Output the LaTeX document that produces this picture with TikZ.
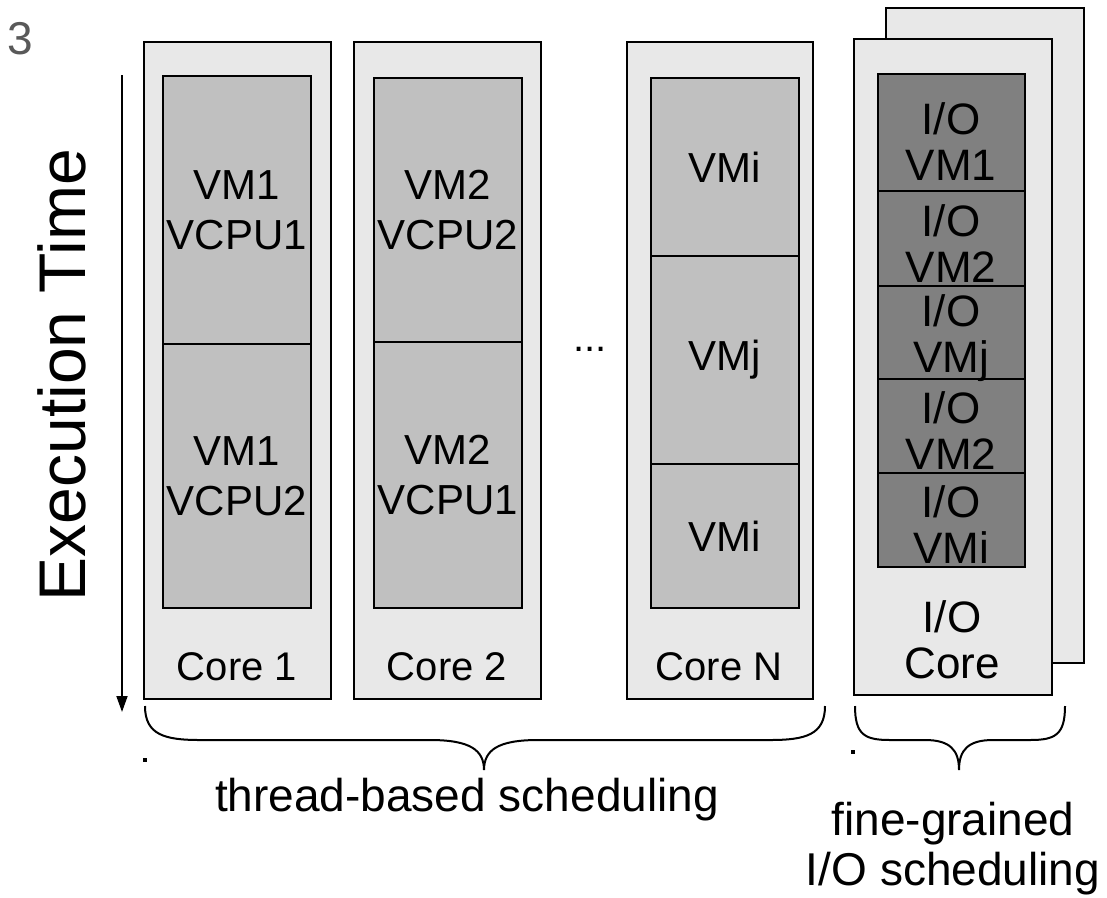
\documentclass[tikz,border=0pt]{standalone}
\usepackage{fontspec}
\setmainfont{Liberation Sans}
\usetikzlibrary{arrows.meta}
\definecolor{outerfill}{HTML}{E8E8E8}
\definecolor{cellfill}{HTML}{C0C0C0}
\definecolor{iofill}{HTML}{808080}
\begin{document}
\begin{tikzpicture}[x=1pt,y=-1pt,
  outerbox/.style={draw=black,line width=1.8pt,fill=outerfill,anchor=north west,inner sep=0pt},
  cell/.style={draw=black,line width=1.8pt,fill=cellfill,anchor=north west,inner sep=0pt,minimum width=148pt,align=center,font=\fontsize{42}{50}\selectfont},
  iocell/.style={draw=black,line width=1.8pt,fill=iofill,anchor=north west,inner sep=0pt,minimum width=147pt},
  iotext/.style={font=\fontsize{44}{44}\selectfont,anchor=base,inner sep=0pt},
  lbl/.style={font=\fontsize{40}{48}\selectfont,align=center,inner sep=0pt},
  iolbl/.style={font=\fontsize{44}{46}\selectfont,align=center,inner sep=0pt},
  biglbl/.style={font=\fontsize{46}{50}\selectfont,align=center,inner sep=0pt},
  brace/.style={draw=black,line width=2pt}
]
\useasboundingbox (0,0) rectangle (1107,897);

% stray digit
\node[text=gray!70!black,font=\fontsize{46}{46}\selectfont,inner sep=0pt] (three) at (20,39) {3};

% time axis
\coordinate (ttop) at (122,75);
\coordinate (tbot) at (122,712);
\draw[line width=1.8pt,-{Triangle[length=16pt,width=11pt]}] (ttop) -- (tbot);
\node[rotate=90,font=\fontsize{66}{66}\selectfont,inner sep=0pt] (exec) at (62,375) {Execution Time};

% Core 1
\node[outerbox,minimum width=187pt,minimum height=657pt] (core1) at (143,41) {};
\node[cell,minimum height=268pt] (c1a) at (162,75) {VM1\\VCPU1};
\node[cell,minimum height=264pt] (c1b) at (162,343) {VM1\\VCPU2};
\node[lbl] (c1l) at (237,667) {Core 1};

% Core 2
\node[outerbox,minimum width=187pt,minimum height=657pt] (core2) at (353,41) {};
\node[cell,minimum height=264pt] (c2a) at (373,77) {VM2\\VCPU2};
\node[cell,minimum height=266pt] (c2b) at (373,341) {VM2\\VCPU1};
\node[lbl] (c2l) at (447,667) {Core 2};

% dots
\node[lbl] (dots) at (590,349) {...};

% Core N
\node[outerbox,minimum width=186pt,minimum height=657pt] (coreN) at (626,41) {};
\node[cell,minimum height=178pt] (cNa) at (650,77) {VMi};
\node[cell,minimum height=208pt] (cNb) at (650,255) {VMj};
\node[cell,minimum height=144pt] (cNc) at (650,463) {VMi};
\node[lbl] (cNl) at (719,667) {Core N};

% I/O cores
\node[outerbox,minimum width=198pt,minimum height=655pt] (ioback) at (885,7) {};
\node[outerbox,minimum width=198pt,minimum height=656pt] (iofront) at (853,38) {};
\node[iocell,minimum height=117pt] (io1) at (877,73) {};
\node[iocell,minimum height=95pt] (io2) at (877,190) {};
\node[iocell,minimum height=93pt] (io3) at (877,285) {};
\node[iocell,minimum height=94pt] (io4) at (877,378) {};
\node[iocell,minimum height=94pt] (io5) at (877,472) {};
\node[iotext] (io1a) at (951,134) {I/O};
\node[iotext] (io1b) at (951,180) {VM1};
\node[iotext] (io2a) at (951,236) {I/O};
\node[iotext] (io2b) at (951,282) {VM2};
\node[iotext] (io3a) at (951,326) {I/O};
\node[iotext] (io3b) at (951,372) {VMj};
\node[iotext] (io4a) at (951,423) {I/O};
\node[iotext] (io4b) at (951,469) {VM2};
\node[iotext] (io5a) at (951,517) {I/O};
\node[iotext] (io5b) at (951,563) {VMi};
\node[iolbl] (iol) at (952,640) {I/O\\Core};

% braces
\draw[brace] (145,706) .. controls (145,735) and (165,740) .. (200,740) -- (430,740)
  .. controls (470,740) and (484,750) .. (484,770)
  .. controls (484,750) and (498,740) .. (538,740) -- (770,740)
  .. controls (805,740) and (825,735) .. (825,706);
\draw[brace] (855,706) .. controls (855,735) and (865,740) .. (890,740) -- (925,740)
  .. controls (950,740) and (959,750) .. (959,770)
  .. controls (959,750) and (968,740) .. (993,740) -- (1030,740)
  .. controls (1055,740) and (1065,735) .. (1065,706);
\fill (143,758) rectangle (147,762);
\fill (851,750) rectangle (855,754);

\node[biglbl] (thr) at (467,800) {thread-based scheduling};
\node[biglbl] (fine) at (953,849) {fine-grained\\I/O scheduling};
\end{tikzpicture}
\end{document}
